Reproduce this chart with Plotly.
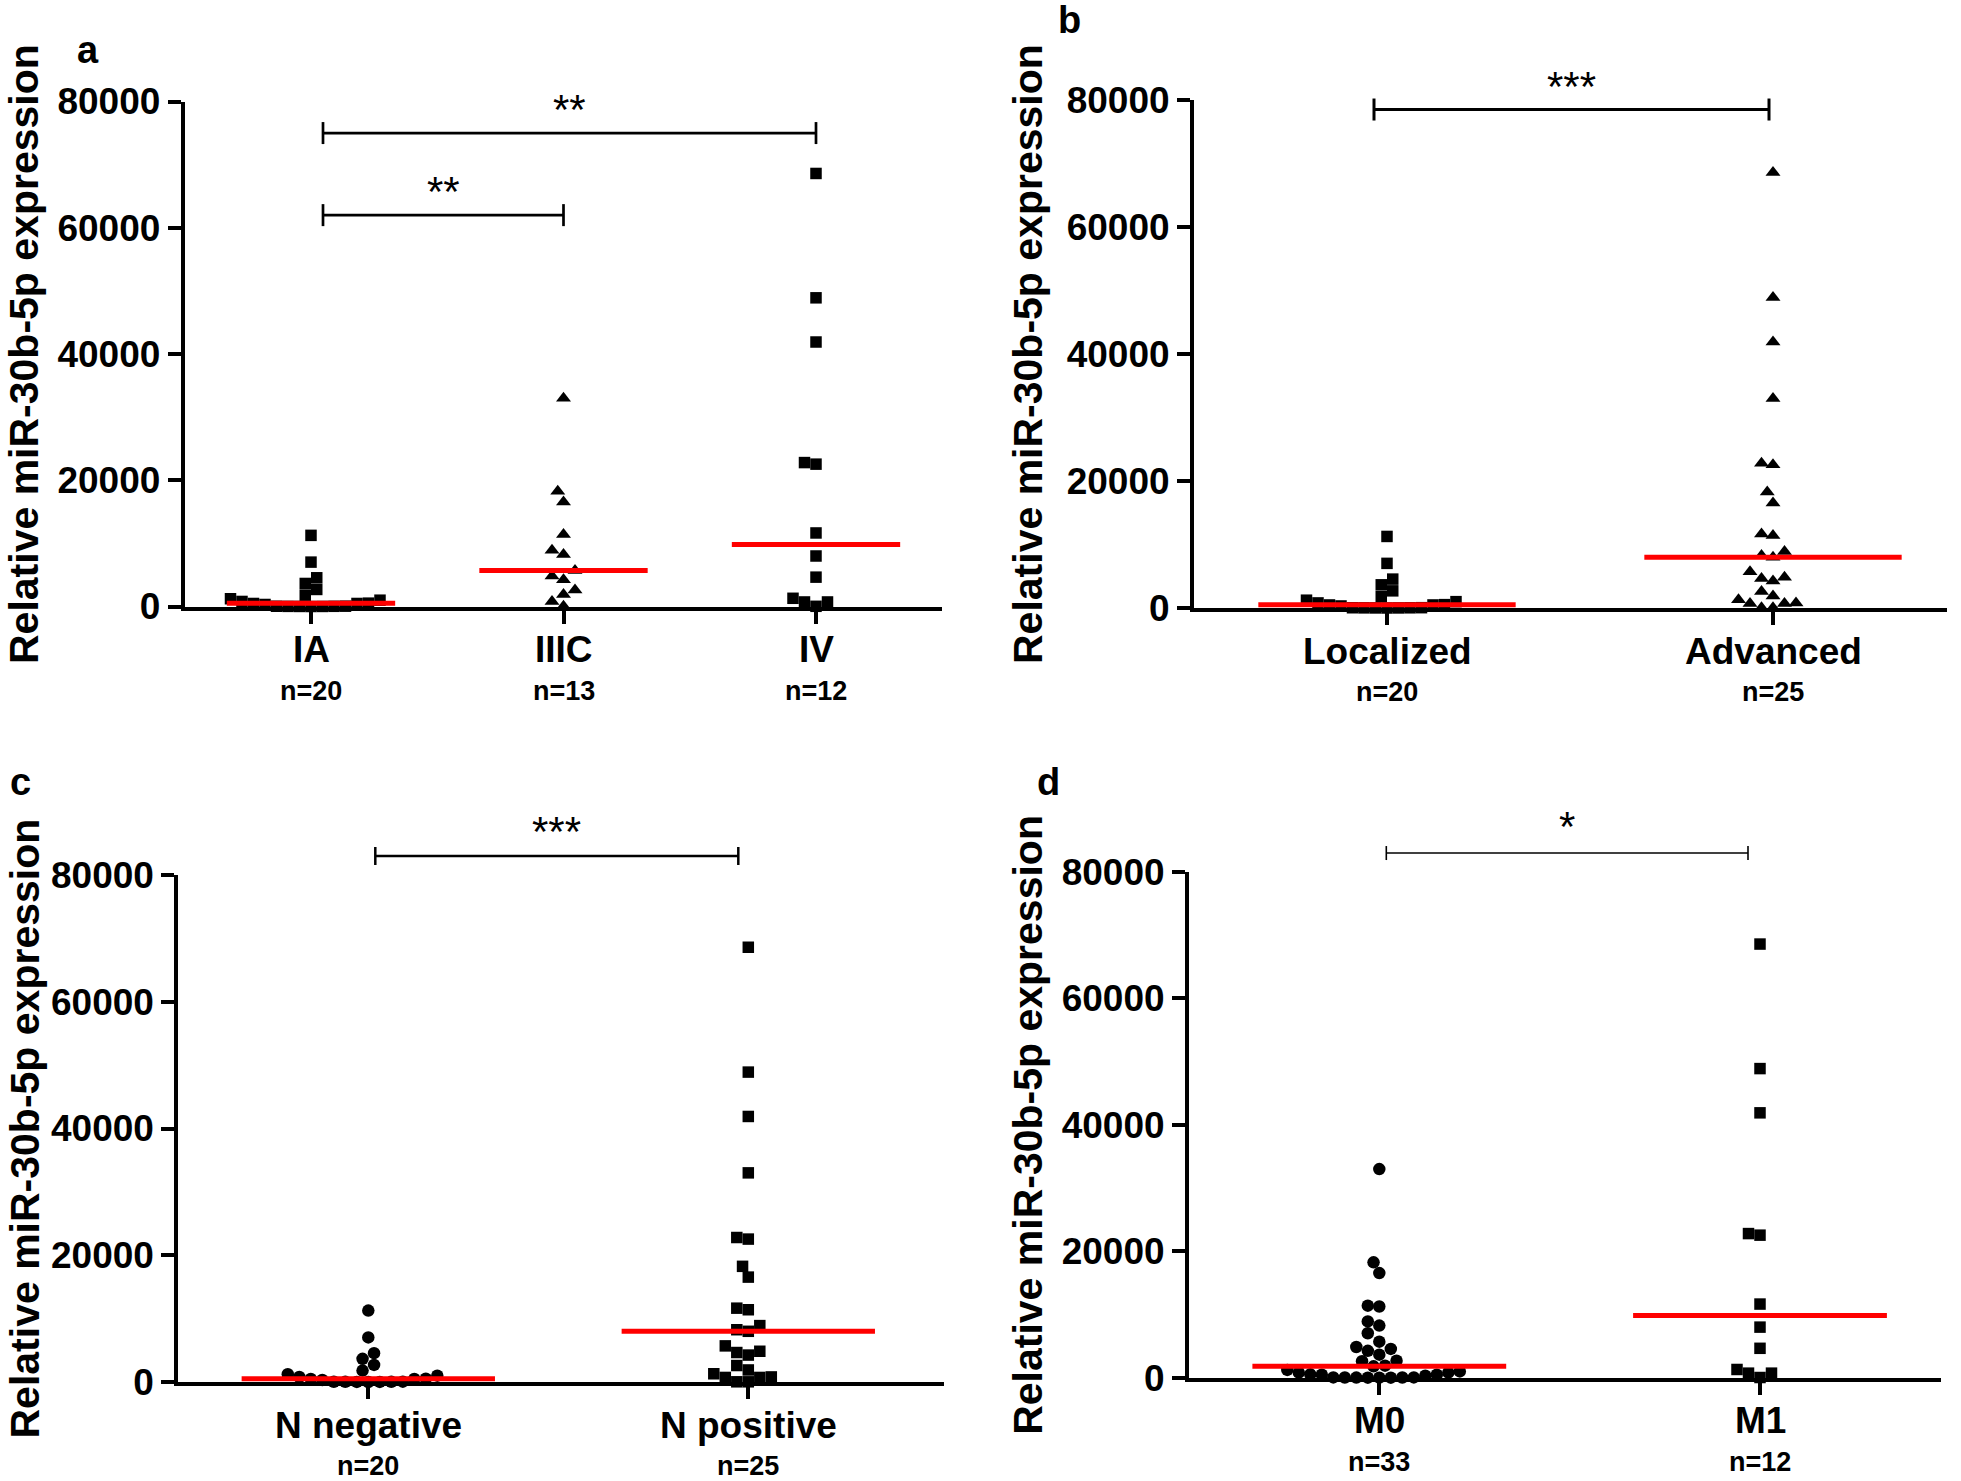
import numpy as np
import plotly.graph_objects as go

# ---------------- data ----------------
IA = [11270, 7030, 4550, 3650, 2700, 1800, 1230, 1000, 800, 530,
      480, 480, 320, 50, 40, 30, 20, 10, 10, 0]
IIIC = [33000, 18250, 16550, 11400, 8900, 8250, 5700, 4850, 4250, 2600,
        1900, 800, 30]
IV = [68600, 48900, 41900, 22800, 22550, 11650, 8000, 4650, 1300, 720,
      720, 30]

LOCALIZED = IA
ADVANCED = IIIC + IV
N_NEGATIVE = IA
N_POSITIVE = IIIC + IV
M0 = IA + IIIC
M1 = IV

CATS_A = ["IA", "IIIC", "IV"]
NS_A = ["n=20", "n=13", "n=12"]
CATS_B = ["Localized", "Advanced"]
NS_B = ["n=20", "n=25"]
CATS_C = ["N negative", "N positive"]
NS_C = ["n=20", "n=25"]
CATS_D = ["M0", "M1"]
NS_D = ["n=33", "n=12"]

Y_TICKS = [0, 20000, 40000, 60000, 80000]
Y_TICK_TEXT = ["0", "20000", "40000", "60000", "80000"]
Y_TITLE = "Relative miR-30b-5p expression"

# comparisons: (group i, group j, height, label)
CMP_A = [(1, 3, 75000, "**"), (1, 2, 62000, "**")]
CMP_B = [(1, 2, 78500, "***")]
CMP_C = [(1, 2, 83000, "***")]
CMP_D = [(1, 2, 83000, "*")]

# ---------------- layout geometry (pixels) ----------------
W, H = 1961, 1481
FONT = "Liberation Sans, Arial, sans-serif"

panels = [
    dict(letter="a", groups=[IA, IIIC, IV], cats=CATS_A, ns=NS_A, cmp=CMP_A,
         symbols=["square", "triangle-up", "square"],
         xr=(0.5, 3.5), x1px=311, unit=252.5, ypx=(101.5, 606.5),
         title_x=24, letter_xy=(88, 50), br_nudge=(12, 0), br_lw=2.7, br_tick=11,
         star_shift=24),
    dict(letter="b", groups=[LOCALIZED, ADVANCED], cats=CATS_B, ns=NS_B, cmp=CMP_B,
         symbols=["square", "triangle-up"],
         xr=(0.5, 2.45), x1px=1387, unit=386, ypx=(100, 608),
         title_x=1028, letter_xy=(1069, 20), br_nudge=(-13, -4), br_lw=3, br_tick=11,
         star_shift=23),
    dict(letter="c", groups=[N_NEGATIVE, N_POSITIVE], cats=CATS_C, ns=NS_C, cmp=CMP_C,
         symbols=["circle", "square"],
         xr=(0.5, 2.515), x1px=368.3, unit=380, ypx=(875, 1382),
         title_x=24, letter_xy=(20, 782), br_nudge=(7, -10), br_lw=2.5, br_tick=9,
         star_shift=24),
    dict(letter="d", groups=[M0, M1], cats=CATS_D, ns=NS_D, cmp=CMP_D,
         symbols=["circle", "square"],
         xr=(0.5, 2.475), x1px=1379.3, unit=380.7, ypx=(872, 1377.7),
         title_x=1028, letter_xy=(1048, 782), br_nudge=(7, -12), br_lw=1.6, br_tick=7,
         star_shift=27),
]

MARKER = {"square": 11.5, "triangle-up": 13, "circle": 12.5}
SWARM_D = 11.5
SWARM_STEP = 5.75
MEDIAN_HALF = 1.0 / 3.0   # half-length of the median bar, in category units


def swarm_offsets(vals, px_per_val):
    """Beeswarm: place points (ascending) at nearest free horizontal slot."""
    vals = np.asarray(vals, dtype=float)
    order = np.argsort(vals, kind="stable")
    cands = [0.0]
    for m in range(1, 80):
        cands += [-m * SWARM_STEP, m * SWARM_STEP]
    placed = []
    off = np.zeros(len(vals))
    for i in order:
        y = vals[i] * px_per_val
        for c in cands:
            ok = True
            for (px, py) in placed:
                if (c - px) ** 2 + (y - py) ** 2 < SWARM_D ** 2 - 1e-6:
                    ok = False
                    break
            if ok:
                break
        placed.append((c, y))
        off[i] = c
    return off


fig = go.Figure()
shapes = []
annotations = []

for k, p in enumerate(panels, start=1):
    sfx = "" if k == 1 else str(k)
    xa, ya = "x" + sfx, "y" + sfx
    unit = p["unit"]
    left_px = p["x1px"] - (1 - p["xr"][0]) * unit
    right_px = p["x1px"] + (p["xr"][1] - 1) * unit
    top_px, bot_px = p["ypx"]
    px_per_val = (bot_px - top_px) / 80000.0

    axis_common = dict(showgrid=False, zeroline=False, showline=True, linewidth=4,
                       linecolor="black", ticks="outside", ticklen=13, tickwidth=4,
                       tickcolor="black", fixedrange=True, automargin=False)
    fig.update_layout(**{
        "xaxis" + sfx: dict(domain=[left_px / W, right_px / W], range=list(p["xr"]),
                            anchor=ya, tickmode="array",
                            tickvals=list(range(1, len(p["cats"]) + 1)),
                            showticklabels=False, **axis_common),
        "yaxis" + sfx: dict(domain=[1 - bot_px / H, 1 - top_px / H], range=[0, 80000],
                            anchor=xa, tickmode="array", tickvals=Y_TICKS,
                            ticktext=Y_TICK_TEXT,
                            tickfont=dict(family=FONT, size=37, color="black", weight="bold"),
                            **axis_common),
    })

    for gi, (vals, sym) in enumerate(zip(p["groups"], p["symbols"]), start=1):
        off = swarm_offsets(vals, px_per_val)
        fig.add_trace(go.Scatter(
            x=gi + off / unit, y=vals, xaxis=xa, yaxis=ya, mode="markers",
            marker=dict(symbol=sym, size=MARKER[sym], color="black", line=dict(width=0)),
            cliponaxis=False, showlegend=False, hoverinfo="y"))
        med = float(np.median(vals))
        fig.add_trace(go.Scatter(
            x=[gi - MEDIAN_HALF, gi + MEDIAN_HALF], y=[med, med], xaxis=xa, yaxis=ya,
            mode="lines", line=dict(color="#ff0000", width=5), showlegend=False,
            hoverinfo="skip", cliponaxis=False))

        annotations.append(dict(x=gi, y=0, xref=xa, yref=ya + " domain", yshift=-43,
                                text=p["cats"][gi - 1], showarrow=False,
                                xanchor="center", yanchor="middle",
                                font=dict(family=FONT, size=37, color="black", weight="bold")))
        annotations.append(dict(x=gi, y=0, xref=xa, yref=ya + " domain", yshift=-84,
                                text=p["ns"][gi - 1], showarrow=False,
                                xanchor="center", yanchor="middle",
                                font=dict(family=FONT, size=27, color="black", weight="bold")))

    # significance brackets (domain refs so they are not clipped above the axis)
    x0r, x1r = p["xr"]
    span = x1r - x0r
    tick_frac = p["br_tick"] / (bot_px - top_px)
    for (i, j, hgt, lab) in p["cmp"]:
        xl = i + p["br_nudge"][0] / unit
        xr_ = j + p["br_nudge"][1] / unit
        fl, fr = (xl - x0r) / span, (xr_ - x0r) / span
        fy = hgt / 80000.0
        ln = dict(color="black", width=p["br_lw"])
        for (ax0, ay0, ax1, ay1) in [(fl, fy, fr, fy),
                                     (fl, fy - tick_frac, fl, fy + tick_frac),
                                     (fr, fy - tick_frac, fr, fy + tick_frac)]:
            shapes.append(dict(type="line", xref=xa + " domain", yref=ya + " domain",
                               x0=ax0, y0=ay0, x1=ax1, y1=ay1, line=ln, layer="above"))
        annotations.append(dict(x=(xl + xr_) / 2, y=fy, xref=xa, yref=ya + " domain",
                                yshift=p["star_shift"], text=lab, showarrow=False,
                                xanchor="center", yanchor="middle",
                                font=dict(family=FONT, size=42, color="black")))

    # y-axis title
    annotations.append(dict(x=p["title_x"] / W, y=1 - (top_px + bot_px) / 2 / H,
                            xref="paper", yref="paper", text=Y_TITLE, textangle=-90,
                            showarrow=False, xanchor="center", yanchor="middle",
                            font=dict(family=FONT, size=41, color="black", weight="bold")))
    # panel letter
    lx, ly = p["letter_xy"]
    annotations.append(dict(x=lx / W, y=1 - ly / H, xref="paper", yref="paper",
                            text=p["letter"], showarrow=False, xanchor="center",
                            yanchor="middle",
                            font=dict(family=FONT, size=38, color="black", weight="bold")))

fig.update_layout(width=W, height=H, autosize=False,
                  margin=dict(l=0, r=0, t=0, b=0, pad=0, autoexpand=False),
                  paper_bgcolor="white", plot_bgcolor="white",
                  shapes=shapes, annotations=annotations, showlegend=False)

# remove the browser's default 8px body margin so the figure sits at the page origin
fig.write_html("out.html",
               config={"displayModeBar": False, "staticPlot": False},
               post_script="document.body.style.margin='0';"
                           "document.body.style.overflow='hidden';")
